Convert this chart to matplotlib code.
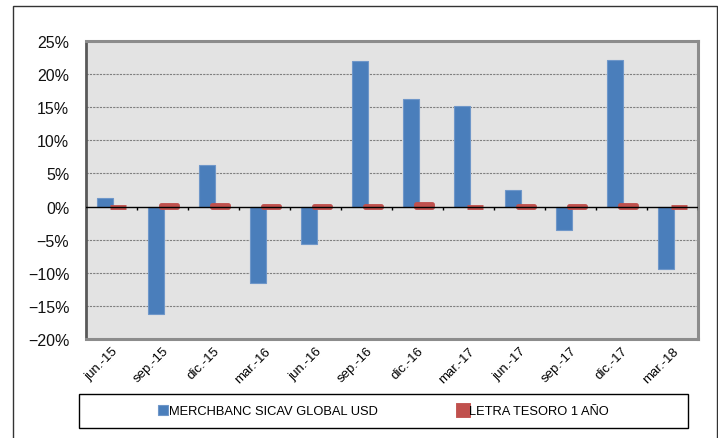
import numpy as np
import matplotlib.pyplot as plt
from matplotlib.patches import Rectangle
from matplotlib.ticker import PercentFormatter

plt.rcParams["font.family"] = ["Liberation Sans", "DejaVu Sans"]

periods = ["jun.-15", "sep.-15", "dic.-15", "mar.-16", "jun.-16", "sep.-16",
           "dic.-16", "mar.-17", "jun.-17", "sep.-17", "dic.-17", "mar.-18"]
fund = [1.3, -16.2, 6.2, -11.5, -5.6, 22.0, 16.2, 15.2, 2.5, -3.6, 22.2, -9.5]
letra = [-0.1, 0.3, 0.2, 0.1, 0.1, 0.1, 0.4, -0.1, 0.1, 0.1, 0.2, -0.1]
names = ["MERCHBANC SICAV GLOBAL USD", "LETRA TESORO 1 AÑO"]

BLUE = "#4a7ebb"
RED = "#c0504d"

fig = plt.figure(figsize=(7.18, 4.39), dpi=100)
# outer chart frame
fig.patches.append(Rectangle((13 / 718, -0.05), 704 / 718, 1.05 - 7 / 439,
                             transform=fig.transFigure, fill=False,
                             edgecolor="#333333", linewidth=1.0))

ax = fig.add_axes([86 / 718, 99 / 439, 612 / 718, 298 / 439])
ax.set_facecolor("#e3e3e3")

x = np.arange(len(periods))
off, w = 0.13, 0.31
ax.bar(x - off, fund, w, color=BLUE, edgecolor="#6f97c9", linewidth=0.8,
       label=names[0], zorder=3)
ax.bar(x + off, letra, w, color=RED, edgecolor=RED, linewidth=3.5,
       joinstyle="round", label=names[1], zorder=4)

ax.set_xlim(-0.5, len(periods) - 0.5)
ax.set_ylim(-20, 25)
ax.set_yticks(np.arange(-20, 26, 5))
ax.yaxis.set_major_formatter(PercentFormatter(decimals=0))
ax.tick_params(axis="y", length=0, pad=12, labelsize=11.5, labelcolor="#111111")

ax.set_xticks(x)
ax.set_xticklabels(periods, rotation=45, ha="right", rotation_mode="anchor",
                   fontsize=9.5)
ax.tick_params(axis="x", length=0, pad=4)

for yv in range(-15, 26, 5):
    if yv != 0:
        ax.axhline(yv, color="#7f7f7f", lw=0.8, ls=(0, (2, 1)), zorder=1)
ax.axhline(0, color="black", lw=1.0, zorder=5)
ax.vlines(np.arange(0.5, len(periods), 1), -0.5, 0, color="black", lw=1.0, zorder=5)

ax.spines["left"].set_color("#595959")
ax.spines["left"].set_linewidth(2)
for s in ["top", "right", "bottom"]:
    ax.spines[s].set_color("#8c8c8c")
    ax.spines[s].set_linewidth(2.2)

# legend box
fig.patches.append(Rectangle((79 / 718, 10 / 439), 609 / 718, 34 / 439,
                             transform=fig.transFigure, fill=False,
                             edgecolor="black", linewidth=1.0))
fig.legend(loc="center", bbox_to_anchor=(383.5 / 718, 27 / 439), ncol=2,
           frameon=False, fontsize=9.3, handlelength=0.75, handleheight=0.9,
           handletextpad=0.1, columnspacing=6.2)

fig.savefig("out.png", dpi=100)
